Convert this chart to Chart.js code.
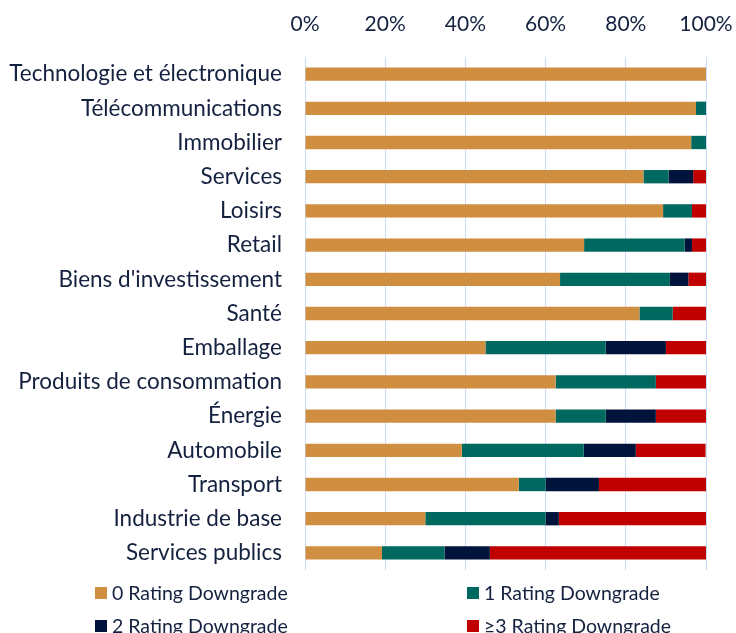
<!DOCTYPE html>
<html>
<head>
<meta charset="utf-8">
<script src="https://cdn.jsdelivr.net/npm/chart.js@4/dist/chart.umd.min.js"></script>
<style>
  body { margin: 0; background: #fff; }
  #wrap { position: relative; width: 736px; height: 633px; overflow: hidden; }
  #legend { position: absolute; left: 0; top: 0; width: 736px; height: 633px; pointer-events: none;
            font-family: Lato, "Open Sans", sans-serif; font-size: 19.5px; color: #14213F; }
  .item { position: absolute; display: flex; align-items: center; white-space: nowrap; line-height: 1; }
  .box { width: 12px; height: 12px; margin-right: 5px; }
</style>
</head>
<body>
<div id="wrap"><canvas id="chart" width="736" height="633"></canvas><div id="legend"></div></div>
<script>
const categories = [
    'Technologie et électronique', 'Télécommunications', 'Immobilier', 'Services', 'Loisirs',
    'Retail', "Biens d'investissement", 'Santé', 'Emballage', 'Produits de consommation',
    'Énergie', 'Automobile', 'Transport', 'Industrie de base', 'Services publics'
];
const seriesNames = ['0 Rating Downgrade', '1 Rating Downgrade', '2 Rating Downgrade', '≥3 Rating Downgrade'];
const down0 = [100, 97.5, 96.3, 84.4, 89.3, 69.6, 63.6, 83.4, 45.0, 62.5, 62.5, 39.1, 53.3, 30.0, 19.2];
const down1 = [0, 2.5, 3.7, 6.3, 7.2, 25.1, 27.4, 8.3, 30.0, 25.0, 12.5, 30.4, 6.7, 30.0, 15.6];
const down2 = [0, 0, 0, 6.1, 0, 1.8, 4.6, 0, 15.0, 0, 12.5, 13.0, 13.3, 3.3, 11.3];
const down3 = [0, 0, 0, 3.2, 3.5, 3.5, 4.4, 8.3, 10.0, 12.5, 12.5, 17.4, 26.7, 36.7, 53.9];
const tickValues = [0, 20, 40, 60, 80, 100];

const colors = ['#D08E41', '#00695F', '#00133A', '#C00000'];
const textColor = '#14213F';
const fontFamily = 'Lato, "Open Sans", sans-serif';

const ctx = document.getElementById('chart');
new Chart(ctx, {
    type: 'bar',
    data: {
        labels: categories,
        datasets: [down0, down1, down2, down3].map((d, i) => ({
            label: seriesNames[i],
            data: d,
            backgroundColor: colors[i],
            borderWidth: 0,
            barPercentage: 0.39,
            categoryPercentage: 1
        }))
    },
    options: {
        indexAxis: 'y',
        responsive: false,
        animation: false,
        layout: { padding: { left: 0, right: 30, top: 14, bottom: 63 } },
        scales: {
            x: {
                position: 'top',
                stacked: true,
                min: 0,
                max: 100,
                afterBuildTicks: s => { s.ticks = tickValues.map(v => ({ value: v })); },
                afterFit: s => { s.height = 43; s.paddingLeft = 0; s.paddingRight = 0; },
                grid: { color: '#C9DAF8', lineWidth: 1, drawTicks: false },
                border: { display: false },
                ticks: {
                    padding: 20,
                    color: textColor,
                    font: { family: fontFamily, size: 21 },
                    callback: v => v + '%'
                }
            },
            y: {
                stacked: true,
                afterFit: s => { s.width = 305; },
                grid: { display: false, drawTicks: false },
                border: { display: false },
                ticks: {
                    padding: 23,
                    color: textColor,
                    font: { family: fontFamily, size: 22.5 }
                }
            }
        },
        plugins: {
            legend: { display: false },
            tooltip: { enabled: false }
        }
    }
});

// legend laid out in two columns like the original
const legendPos = [[95, 593], [467, 593], [95, 626], [467, 626]];
const legendEl = document.getElementById('legend');
seriesNames.forEach((name, i) => {
    const item = document.createElement('div');
    item.className = 'item';
    item.style.left = legendPos[i][0] + 'px';
    item.style.top = (legendPos[i][1] - 10) + 'px';
    item.innerHTML = `<span class="box" style="background:${colors[i]}"></span><span>${name}</span>`;
    legendEl.appendChild(item);
});
</script>
</body>
</html>
